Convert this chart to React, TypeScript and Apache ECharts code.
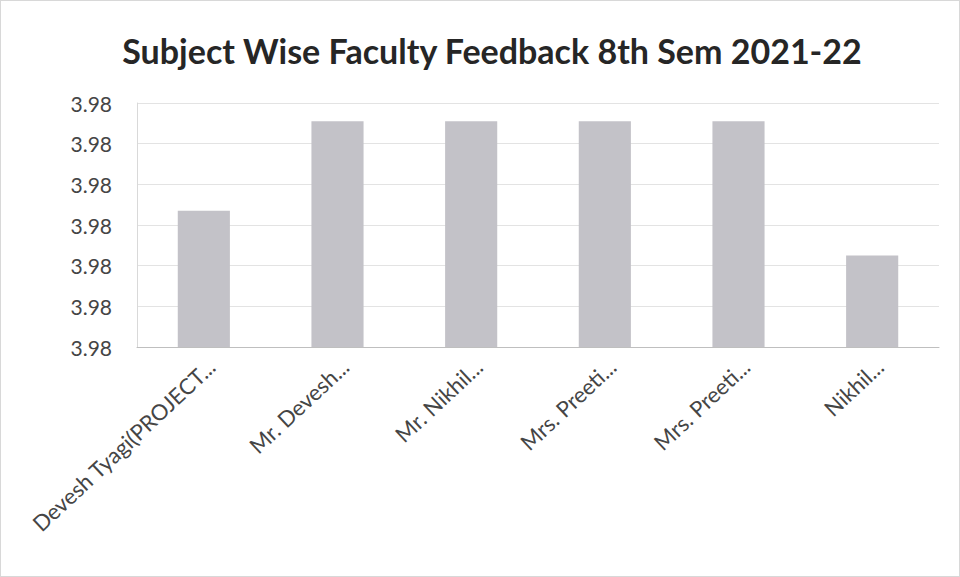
import React, { useEffect, useRef } from "react";
import * as echarts from "echarts";

const categories = [
  "Devesh Tyagi(PROJECT...",
  "Mr. Devesh...",
  "Mr. Nikhil...",
  "Mrs. Preeti...",
  "Mrs. Preeti...",
  "Nikhil...",
];
const values = [3.97867, 3.97911, 3.97911, 3.97911, 3.97911, 3.97845];
const titleText = "Subject Wise Faculty Feedback 8th Sem 2021-22";

export default function App() {
  const ref = useRef<HTMLDivElement>(null);
  useEffect(() => {
    document.body.style.margin = "0";
    if (!ref.current) return;
    const chart = echarts.init(ref.current, undefined, { renderer: "svg" });
    chart.setOption({
      animation: false,
      backgroundColor: "#ffffff",
      title: {
        text: titleText,
        left: 486,
        textAlign: "center",
        top: 27,
        textStyle: {
          fontFamily: "Lato",
          fontWeight: "bold",
          fontSize: 34,
          color: "#262626",
        },
      },
      grid: { left: 136, right: 20, top: 102, bottom: 229 },
      xAxis: {
        type: "category",
        data: categories,
        axisLine: { lineStyle: { color: "#bfbfbf" } },
        axisTick: { show: false },
        axisLabel: {
          rotate: 43,
          interval: 0,
          fontFamily: "Lato",
          fontSize: 22,
          color: "#454545",
          margin: 8,
          verticalAlign: "top",
        },
      },
      yAxis: {
        type: "value",
        min: 3.978,
        max: 3.9792,
        interval: 0.0002,
        axisLine: { show: true, lineStyle: { color: "#d9d9d9" } },
        axisTick: { show: false },
        splitLine: { lineStyle: { color: "#e3e3e3" } },
        axisLabel: {
          formatter: (v: number) => v.toFixed(2),
          fontFamily: "Lato",
          fontSize: 21,
          color: "#454545",
          margin: 25,
        },
      },
      series: [
        {
          type: "bar",
          data: values,
          barWidth: "39%",
          itemStyle: { color: "#c3c2c8" },
        },
      ],
    });
    return () => chart.dispose();
  }, []);
  return (
    <div
      ref={ref}
      style={{ width: 960, height: 577, border: "1px solid #d8d8d8", boxSizing: "border-box" }}
    />
  );
}
